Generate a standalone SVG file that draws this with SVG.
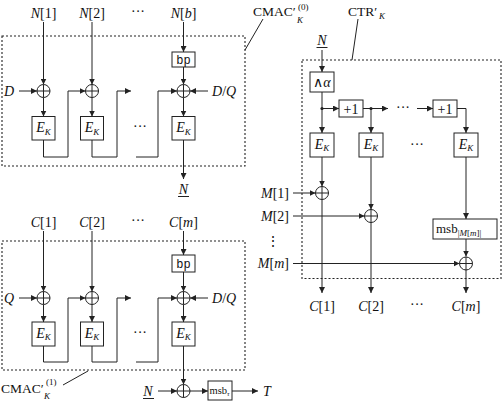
<svg xmlns="http://www.w3.org/2000/svg" xmlns:xlink="http://www.w3.org/1999/xlink" width="503" height="401" viewBox="0 0 503 401" font-family="'Liberation Serif', 'Times New Roman', serif">
<style>
.ln{stroke:#222;stroke-width:1;fill:none}
.ar{stroke:#222;stroke-width:1;fill:none;marker-end:url(#ah)}
.box{fill:#fff;stroke:#222;stroke-width:1}
.dash{fill:none;stroke:#222;stroke-width:1.1;stroke-dasharray:2,2}
text{font-family:'Liberation Serif','Times New Roman',serif;fill:#111}
.lb{font-size:14px}
.sm{font-size:13.5px}
.it{font-style:italic}
.mono{font-family:'Liberation Mono','Courier New',monospace;font-size:12px}
.dot{fill:#222}
</style>
<defs>
<marker id="ah" markerUnits="userSpaceOnUse" markerWidth="7" markerHeight="6" refX="6" refY="3" orient="auto">
<path d="M0,0 L6,3 L0,6 z" fill="#222"/>
</marker>
<g id="xor"><circle cx="0" cy="0" r="6.5" fill="#fff" stroke="#222" stroke-width="1"/><path d="M-6.5,0 H6.5 M0,-6.5 V6.5" stroke="#222" stroke-width="1"/></g>
</defs>

<g id="frames">
<rect class="dash" x="2" y="36" width="243" height="130"/>
<rect class="dash" x="2" y="241" width="243" height="129"/>
<rect class="dash" x="302" y="60" width="199" height="218.5"/>
</g>

<g id="connectors">
<line class="ar" x1="43.5" y1="22" x2="43.5" y2="84.5"/>
<line class="ar" x1="92" y1="22" x2="92" y2="84.5"/>
<line class="ar" x1="183.5" y1="22" x2="183.5" y2="52"/>
<line class="ar" x1="183.5" y1="67" x2="183.5" y2="84.5"/>
<line class="ar" x1="19" y1="91" x2="37" y2="91"/>
<line class="ar" x1="208" y1="91" x2="190" y2="91"/>
<line class="ar" x1="43.5" y1="97.5" x2="43.5" y2="116.5"/>
<line class="ar" x1="92" y1="97.5" x2="92" y2="116.5"/>
<line class="ar" x1="183.5" y1="97.5" x2="183.5" y2="116.5"/>
<polyline class="ar" points="43.5,140 43.5,157 68,157 68,91 85.5,91"/>
<polyline class="ar" points="92,140 92,157 117,157 117,91 131,91"/>
<polyline class="ar" points="136,157 158,157 158,91 177,91"/>
<line class="ar" x1="183.5" y1="140" x2="183.5" y2="179"/>
<line class="ar" x1="43.5" y1="231" x2="43.5" y2="291.5"/>
<line class="ar" x1="92" y1="231" x2="92" y2="291.5"/>
<line class="ar" x1="183.5" y1="231" x2="183.5" y2="255"/>
<line class="ar" x1="183.5" y1="272" x2="183.5" y2="291.5"/>
<line class="ar" x1="19" y1="298" x2="37" y2="298"/>
<line class="ar" x1="208" y1="298" x2="190" y2="298"/>
<line class="ar" x1="43.5" y1="304.5" x2="43.5" y2="322"/>
<line class="ar" x1="92" y1="304.5" x2="92" y2="322"/>
<line class="ar" x1="183.5" y1="304.5" x2="183.5" y2="322"/>
<polyline class="ar" points="43.5,346 43.5,362 68,362 68,298 85.5,298"/>
<polyline class="ar" points="92,346 92,362 117,362 117,298 131,298"/>
<polyline class="ar" points="136,362 158,362 158,298 177,298"/>
<line class="ar" x1="183.5" y1="346" x2="183.5" y2="384.5"/>
<line class="ar" x1="158" y1="391" x2="177" y2="391"/>
<line class="ar" x1="190" y1="391" x2="208" y2="391"/>
<line class="ar" x1="232" y1="391" x2="258" y2="391"/>
<line class="ar" x1="322" y1="50" x2="322" y2="72"/>
<line class="ar" x1="322" y1="92" x2="322" y2="133"/>
<line class="ar" x1="322" y1="108.5" x2="339" y2="108.5"/>
<line class="ar" x1="363" y1="108.5" x2="388" y2="108.5"/>
<line class="ar" x1="371" y1="108.5" x2="371" y2="133"/>
<line class="ar" x1="417" y1="108.5" x2="433" y2="108.5"/>
<polyline class="ar" points="457,108.5 466,108.5 466,133"/>
<line class="ar" x1="322" y1="157" x2="322" y2="186.5"/>
<line class="ar" x1="322" y1="199.5" x2="322" y2="293"/>
<line class="ar" x1="371" y1="157" x2="371" y2="209.5"/>
<line class="ar" x1="371" y1="222.5" x2="371" y2="293"/>
<line class="ar" x1="466" y1="157" x2="466" y2="219"/>
<line class="ar" x1="466" y1="239" x2="466" y2="256.5"/>
<line class="ar" x1="466" y1="269.5" x2="466" y2="293"/>
<line class="ar" x1="293" y1="193" x2="315.5" y2="193"/>
<line class="ar" x1="293" y1="216" x2="364.5" y2="216"/>
<line class="ar" x1="293" y1="263.5" x2="459.5" y2="263.5"/>
<circle class="dot" cx="322" cy="108.5" r="1.6"/>
<circle class="dot" cx="371" cy="108.5" r="1.6"/>
<line class="ln" x1="263" y1="19" x2="245" y2="50"/>
<line class="ln" x1="358" y1="19" x2="352" y2="60"/>
<line class="ln" x1="63" y1="385" x2="88" y2="371"/>
</g>

<g id="cmac0-labels">
<text class="lb" x="43.5" y="18" text-anchor="middle"><tspan class="it">N</tspan>[1]</text>
<text class="lb" x="92" y="18" text-anchor="middle"><tspan class="it">N</tspan>[2]</text>
<text class="lb" x="138" y="16" text-anchor="middle">···</text>
<text class="lb" x="183.5" y="18" text-anchor="middle"><tspan class="it">N</tspan>[<tspan class="it">b</tspan>]</text>
<text class="lb it" x="4" y="96">D</text>
<text class="lb" x="212" y="96"><tspan class="it">D</tspan>/<tspan class="it">Q</tspan></text>
<text class="lb" x="140" y="131" text-anchor="middle">···</text>
<text class="lb it" x="183.5" y="194" text-anchor="middle">N</text>
<line class="ln" x1="178" y1="196.5" x2="189" y2="196.5"/>
</g>
<g id="cmac0-bp"><rect class="box" x="172" y="52" width="23" height="15"/><text class="mono" x="183.5" y="63.5" text-anchor="middle">bp</text></g>
<g id="cmac0-xor1"><use xlink:href="#xor" x="43.5" y="91"/></g>
<g id="cmac0-xor2"><use xlink:href="#xor" x="92" y="91"/></g>
<g id="cmac0-xor3"><use xlink:href="#xor" x="183.5" y="91"/></g>
<g id="cmac0-ek1"><rect class="box" x="32" y="116.5" width="23" height="23.5"/><text class="lb" x="43.5" y="132" text-anchor="middle"><tspan class="it">E</tspan><tspan class="it" font-size="9" dy="2.5">K</tspan></text></g>
<g id="cmac0-ek2"><rect class="box" x="80.5" y="116.5" width="23" height="23.5"/><text class="lb" x="92" y="132" text-anchor="middle"><tspan class="it">E</tspan><tspan class="it" font-size="9" dy="2.5">K</tspan></text></g>
<g id="cmac0-ek3"><rect class="box" x="172" y="116.5" width="23" height="23.5"/><text class="lb" x="183.5" y="132" text-anchor="middle"><tspan class="it">E</tspan><tspan class="it" font-size="9" dy="2.5">K</tspan></text></g>
<g id="cmac0-title">
<text class="sm" x="253" y="16">CMAC′</text>
<text x="298" y="10" font-size="9">(0)</text>
<text class="it" x="297" y="23" font-size="9">K</text>
</g>

<g id="cmac1-labels">
<text class="lb" x="43.5" y="227" text-anchor="middle"><tspan class="it">C</tspan>[1]</text>
<text class="lb" x="92" y="227" text-anchor="middle"><tspan class="it">C</tspan>[2]</text>
<text class="lb" x="138" y="225" text-anchor="middle">···</text>
<text class="lb" x="183.5" y="227" text-anchor="middle"><tspan class="it">C</tspan>[<tspan class="it">m</tspan>]</text>
<text class="lb it" x="4" y="303">Q</text>
<text class="lb" x="212" y="303"><tspan class="it">D</tspan>/<tspan class="it">Q</tspan></text>
<text class="lb" x="140" y="337" text-anchor="middle">···</text>
</g>
<g id="cmac1-bp"><rect class="box" x="172" y="255" width="23" height="17"/><text class="mono" x="183.5" y="267.5" text-anchor="middle">bp</text></g>
<g id="cmac1-xor1"><use xlink:href="#xor" x="43.5" y="298"/></g>
<g id="cmac1-xor2"><use xlink:href="#xor" x="92" y="298"/></g>
<g id="cmac1-xor3"><use xlink:href="#xor" x="183.5" y="298"/></g>
<g id="cmac1-ek1"><rect class="box" x="32" y="322" width="23" height="24"/><text class="lb" x="43.5" y="337.5" text-anchor="middle"><tspan class="it">E</tspan><tspan class="it" font-size="9" dy="2.5">K</tspan></text></g>
<g id="cmac1-ek2"><rect class="box" x="80.5" y="322" width="23" height="24"/><text class="lb" x="92" y="337.5" text-anchor="middle"><tspan class="it">E</tspan><tspan class="it" font-size="9" dy="2.5">K</tspan></text></g>
<g id="cmac1-ek3"><rect class="box" x="172" y="322" width="23" height="24"/><text class="lb" x="183.5" y="337.5" text-anchor="middle"><tspan class="it">E</tspan><tspan class="it" font-size="9" dy="2.5">K</tspan></text></g>
<g id="cmac1-title">
<text class="sm" x="1" y="393">CMAC′</text>
<text x="46" y="385" font-size="9">(1)</text>
<text class="it" x="44" y="399" font-size="9">K</text>
</g>

<g id="tag-n"><text class="lb it" x="148" y="396" text-anchor="middle">N</text><line class="ln" x1="143" y1="398.5" x2="154" y2="398.5"/></g>
<g id="tag-xor"><use xlink:href="#xor" x="183.5" y="391"/></g>
<g id="tag-msb"><rect class="box" x="208" y="381" width="24" height="19"/><text x="209.5" y="394" font-size="10.5">msb<tspan class="it" font-size="7" dy="2">τ</tspan></text></g>
<g id="tag-t"><text class="lb it" x="263" y="396">T</text></g>

<g id="ctr-title">
<text class="sm" x="348" y="16">CTR′</text>
<text class="it" x="379" y="19" font-size="9">K</text>
</g>
<g id="ctr-n"><text class="lb it" x="322" y="45" text-anchor="middle">N</text><line class="ln" x1="316.5" y1="47.5" x2="327.5" y2="47.5"/></g>
<g id="ctr-alpha"><rect class="box" x="310" y="72" width="24" height="20"/><text class="lb" x="322" y="86.5" text-anchor="middle">∧<tspan class="it">α</tspan></text></g>
<g id="ctr-inc1"><rect class="box" x="339" y="100" width="24" height="17"/><text class="lb" x="351" y="113.5" text-anchor="middle">+1</text></g>
<text class="lb" x="403" y="112" text-anchor="middle">···</text>
<g id="ctr-inc2"><rect class="box" x="433" y="100" width="24" height="17"/><text class="lb" x="445" y="113.5" text-anchor="middle">+1</text></g>
<g id="ctr-ek1"><rect class="box" x="310" y="133" width="24" height="24"/><text class="lb" x="322" y="148.5" text-anchor="middle"><tspan class="it">E</tspan><tspan class="it" font-size="9" dy="2.5">K</tspan></text></g>
<g id="ctr-ek2"><rect class="box" x="359" y="133" width="24" height="24"/><text class="lb" x="371" y="148.5" text-anchor="middle"><tspan class="it">E</tspan><tspan class="it" font-size="9" dy="2.5">K</tspan></text></g>
<text class="lb" x="417" y="149" text-anchor="middle">···</text>
<g id="ctr-ek3"><rect class="box" x="454" y="133" width="24" height="24"/><text class="lb" x="466" y="148.5" text-anchor="middle"><tspan class="it">E</tspan><tspan class="it" font-size="9" dy="2.5">K</tspan></text></g>
<g id="ctr-msb"><rect class="box" x="433" y="219" width="64" height="20"/><text x="436" y="233" font-size="13">msb<tspan font-size="9" dy="2.5">|<tspan class="it">M</tspan>[<tspan class="it">m</tspan>]|</tspan></text></g>
<g id="ctr-xor1"><use xlink:href="#xor" x="322" y="193"/></g>
<g id="ctr-xor2"><use xlink:href="#xor" x="371" y="216"/></g>
<g id="ctr-xor3"><use xlink:href="#xor" x="466" y="263.5"/></g>
<g id="ctr-inputs">
<text class="lb" x="289" y="198" text-anchor="end"><tspan class="it">M</tspan>[1]</text>
<text class="lb" x="289" y="221" text-anchor="end"><tspan class="it">M</tspan>[2]</text>
<text x="273" y="246" text-anchor="middle" font-size="14">⋮</text>
<text class="lb" x="289" y="268" text-anchor="end"><tspan class="it">M</tspan>[<tspan class="it">m</tspan>]</text>
</g>
<g id="ctr-outputs">
<text class="lb" x="322" y="311" text-anchor="middle"><tspan class="it">C</tspan>[1]</text>
<text class="lb" x="371" y="311" text-anchor="middle"><tspan class="it">C</tspan>[2]</text>
<text class="lb" x="417" y="309" text-anchor="middle">···</text>
<text class="lb" x="466" y="311" text-anchor="middle"><tspan class="it">C</tspan>[<tspan class="it">m</tspan>]</text>
</g>
</svg>
